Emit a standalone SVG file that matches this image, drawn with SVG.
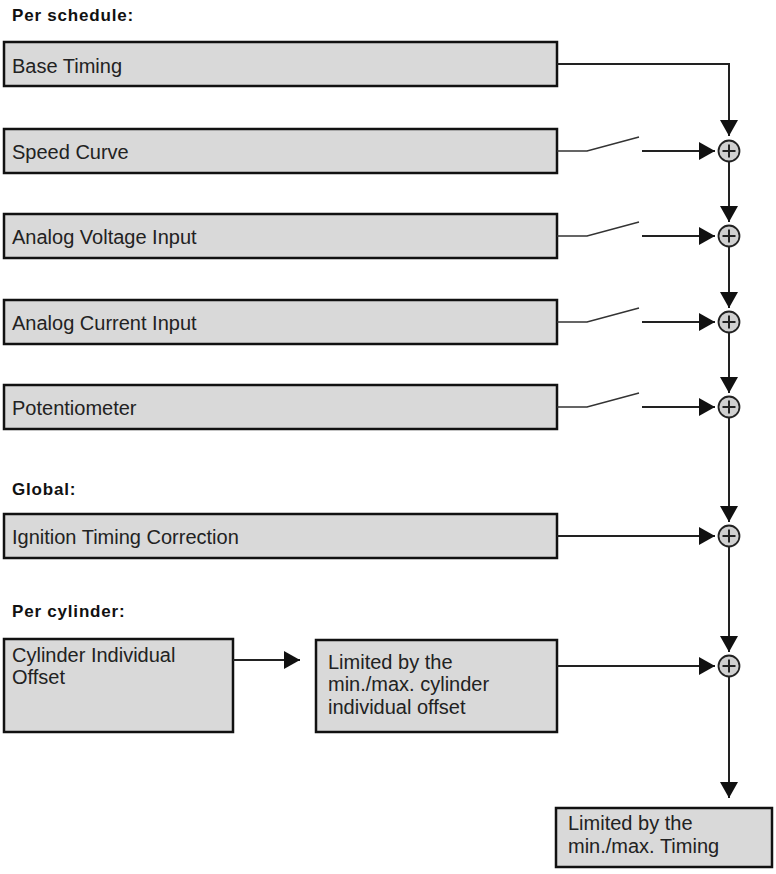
<svg xmlns="http://www.w3.org/2000/svg" width="776" height="874" viewBox="0 0 776 874">
<defs>
<marker id="ah" markerUnits="userSpaceOnUse" markerWidth="16" markerHeight="18" refX="16" refY="9" orient="auto">
<path d="M0,0 L16,9 L0,18 Z" fill="#111"/>
</marker>
<style>
.box{fill:#d9d9d9;stroke:#111;stroke-width:2.5}
.t{font-family:"Liberation Sans",Arial,sans-serif;font-size:20px;fill:#222}
.h{font-family:"Liberation Sans",Arial,sans-serif;font-size:17px;font-weight:bold;fill:#111;letter-spacing:0.8px}
.ln{fill:none;stroke:#222;stroke-width:2}
.sw{fill:none;stroke:#333;stroke-width:1.5}
.sum{fill:#d0d0d0;stroke:#222;stroke-width:1.8}
.plus{stroke:#222;stroke-width:2}
</style>
</defs>
<rect width="776" height="874" fill="#fff"/>
<text class="h" x="12" y="21">Per schedule:</text>
<text class="h" x="12" y="495">Global:</text>
<text class="h" x="12" y="617">Per cylinder:</text>

<g id="base-timing"><rect class="box" x="4" y="42" width="553" height="44"/><text class="t" x="12" y="73">Base Timing</text></g>
<g id="speed-curve"><rect class="box" x="4" y="129" width="553" height="44"/><text class="t" x="12" y="159">Speed Curve</text></g>
<g id="analog-voltage"><rect class="box" x="4" y="214" width="553" height="44"/><text class="t" x="12" y="244">Analog Voltage Input</text></g>
<g id="analog-current"><rect class="box" x="4" y="300" width="553" height="44"/><text class="t" x="12" y="330">Analog Current Input</text></g>
<g id="potentiometer"><rect class="box" x="4" y="385" width="553" height="44"/><text class="t" x="12" y="415">Potentiometer</text></g>
<g id="ignition-correction"><rect class="box" x="4" y="514" width="553" height="44"/><text class="t" x="12" y="544">Ignition Timing Correction</text></g>
<g id="cylinder-offset"><rect class="box" x="4" y="639" width="229" height="93"/><text class="t" x="12" y="662">Cylinder Individual</text><text class="t" x="12" y="684">Offset</text></g>
<g id="cylinder-limit"><rect class="box" x="316" y="640" width="241" height="92"/><text class="t" x="328" y="669">Limited by the</text><text class="t" x="328" y="691">min./max. cylinder</text><text class="t" x="328" y="714">individual offset</text></g>
<g id="timing-limit"><rect class="box" x="556" y="808" width="216" height="59"/><text class="t" x="568" y="830">Limited by the</text><text class="t" x="568" y="853">min./max. Timing</text></g>

<g id="sum1"><circle class="sum" cx="729" cy="151" r="10.5"/><path class="plus" d="M722.5,151 H735.5 M729,144.5 V157.5"/></g>
<g id="sum2"><circle class="sum" cx="729" cy="236" r="10.5"/><path class="plus" d="M722.5,236 H735.5 M729,229.5 V242.5"/></g>
<g id="sum3"><circle class="sum" cx="729" cy="322" r="10.5"/><path class="plus" d="M722.5,322 H735.5 M729,315.5 V328.5"/></g>
<g id="sum4"><circle class="sum" cx="729" cy="407" r="10.5"/><path class="plus" d="M722.5,407 H735.5 M729,400.5 V413.5"/></g>
<g id="sum5"><circle class="sum" cx="729" cy="536" r="10.5"/><path class="plus" d="M722.5,536 H735.5 M729,529.5 V542.5"/></g>
<g id="sum6"><circle class="sum" cx="729" cy="666" r="10.5"/><path class="plus" d="M722.5,666 H735.5 M729,659.5 V672.5"/></g>

<g id="connectors">
<path class="ln" d="M557,64 H729 V136" marker-end="url(#ah)"/>
<path class="sw" d="M557,151 H587 L639,137"/>
<path class="ln" d="M642,151 H715" marker-end="url(#ah)"/>
<path class="sw" d="M557,236 H587 L639,222"/>
<path class="ln" d="M642,236 H715" marker-end="url(#ah)"/>
<path class="sw" d="M557,322 H587 L639,308"/>
<path class="ln" d="M642,322 H715" marker-end="url(#ah)"/>
<path class="sw" d="M557,407 H587 L639,393"/>
<path class="ln" d="M642,407 H715" marker-end="url(#ah)"/>
<path class="ln" d="M557,536 H715" marker-end="url(#ah)"/>
<path class="ln" d="M557,666 H715" marker-end="url(#ah)"/>
<path class="ln" d="M233,660 H300" marker-end="url(#ah)"/>
<path class="ln" d="M729,162 V222" marker-end="url(#ah)"/>
<path class="ln" d="M729,247 V308" marker-end="url(#ah)"/>
<path class="ln" d="M729,333 V393" marker-end="url(#ah)"/>
<path class="ln" d="M729,418 V522" marker-end="url(#ah)"/>
<path class="ln" d="M729,547 V652" marker-end="url(#ah)"/>
<path class="ln" d="M729,677 V798" marker-end="url(#ah)"/>
</g>
</svg>
